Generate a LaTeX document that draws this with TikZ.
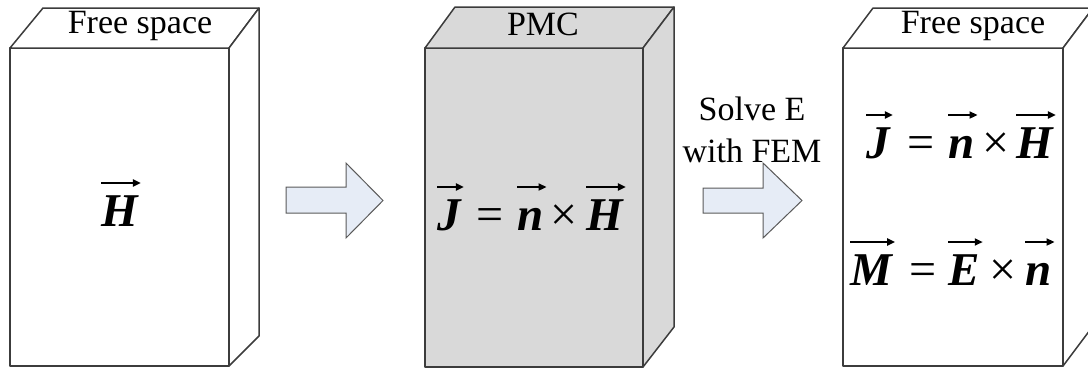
\documentclass[tikz,border=0pt]{standalone}
\usepackage{fontspec}
\setmainfont{Liberation Serif}
\usetikzlibrary{arrows.meta}
\definecolor{edge}{HTML}{3C3C3C}
\definecolor{pmc}{HTML}{D9D9D9}
\definecolor{arrfill}{HTML}{E6ECF6}
\definecolor{arredge}{HTML}{5A5A5A}
\tikzset{
  boxface/.style={draw=edge, line width=1.5pt, line join=round},
  lbl/.style={font=\fontsize{34}{40}\selectfont, anchor=base, inner sep=0pt},
  vecl/.style={font=\fontsize{47}{50}\selectfont\bfseries\itshape, anchor=base west, inner sep=0pt},
  op/.style={font=\fontsize{48}{50}\selectfont, anchor=base west, inner sep=0pt},
  vecarrow/.style={line width=2.2pt, -{Triangle[length=8pt,width=7pt]}},
  blockarrow/.style={draw=arredge, fill=arrfill, line width=1pt, line join=miter},
}
\newcommand\vecnode[3]{%
  \node[vecl] (#1) at (#2) {#3};
  \draw[vecarrow] ([yshift=43pt]#1.base west) -- ([yshift=43pt,xshift=3pt]#1.base east);}
\begin{document}
\begin{tikzpicture}[x=1pt,y=-1pt]
\useasboundingbox (0,0) rectangle (1088,368);
\clip (0,0) rectangle (1088,368);
% box 1
\path[boxface, fill=white] (10,48) rectangle (229,366);
\path[boxface, fill=white] (10,48) -- (43,8) -- (259,8) -- (229,48) -- cycle;
\path[boxface, fill=white] (229,48) -- (259,8) -- (259,336) -- (229,366) -- cycle;
% box 2
\path[boxface, fill=pmc] (425,48) rectangle (643,367);
\path[boxface, fill=pmc] (425,48) -- (455,7) -- (674,7) -- (643,48) -- cycle;
\path[boxface, fill=pmc] (643,48) -- (674,7) -- (674,327) -- (643,367) -- cycle;
% box 3
\path[boxface, fill=white] (843,48) rectangle (1063,366);
\path[boxface, fill=white] (843,48) -- (873,8) -- (1093,8) -- (1063,48) -- cycle;
\path[boxface, fill=white] (1063,48) -- (1093,8) -- (1093,326) -- (1063,366) -- cycle;
% block arrows
\path[blockarrow] (286,187) -- (346,187) -- (346,163) -- (383,200.5) -- (346,238) -- (346,213) -- (286,213) -- cycle;
\path[blockarrow] (703,188) -- (763,188) -- (763,163) -- (802,200.5) -- (763,238) -- (763,213) -- (703,213) -- cycle;
% labels
\node[lbl] (fs1) at (140,33) {Free space};
\node[lbl] (pmc) at (543,35) {PMC};
\node[lbl] (fs3) at (973,33) {Free space};
\node[lbl] (solve) at (752,120) {Solve E};
\node[lbl] (fem) at (752,162) {with FEM};
% box 1 vector
\vecnode{H1}{101,226}{H}
% box 2 equation
\vecnode{J2}{437,230}{J}
\node[op] (eq2) at (476,230) {=};
\vecnode{n2}{517,230}{n}
\node[op] (x2) at (550,230) {×};
\vecnode{H2}{586,230}{H}
% box 3 equations
\vecnode{J3}{866,158}{J}
\node[op] (eq3) at (907,158) {=};
\vecnode{n3}{948,158}{n}
\node[op] (x3) at (982,158) {×};
\vecnode{H3}{1016,158}{H}
\vecnode{M3}{850,285}{M}
\node[op] (eq4) at (909,285) {=};
\vecnode{E3}{948,285}{E}
\node[op] (x4) at (989,285) {×};
\vecnode{n4}{1025,285}{n}
\end{tikzpicture}
\end{document}
